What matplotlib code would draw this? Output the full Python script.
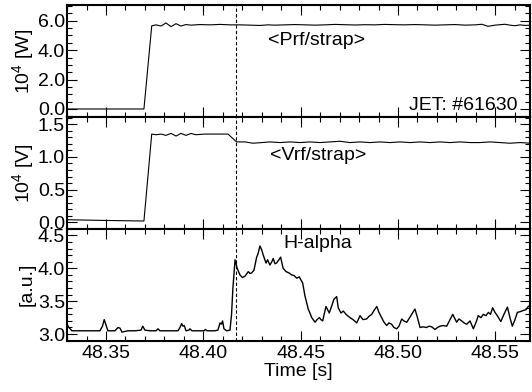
import numpy as np
import matplotlib
matplotlib.use("Agg")
import matplotlib.pyplot as plt
from matplotlib.ticker import MultipleLocator, FormatStrFormatter

plt.rcParams['font.family'] = ['Liberation Sans', 'DejaVu Sans']
plt.rcParams['mathtext.default'] = 'regular'
plt.rcParams['font.size'] = 14

# RF power per strap [10^4 W]
prf_time = [48.3300, 48.3695, 48.3735, 48.3757, 48.3783, 48.3808, 48.3834, 48.3860, 48.3885,
            48.3911, 48.3937, 48.3983, 48.4034, 48.4086, 48.4137, 48.4188, 48.4240, 48.4291,
            48.4332, 48.4368, 48.4420, 48.4471, 48.4522, 48.4574, 48.4625, 48.4676, 48.4728,
            48.4779, 48.4830, 48.4882, 48.4933, 48.4985, 48.5036, 48.5087, 48.5139, 48.5190,
            48.5241, 48.5293, 48.5344, 48.5396, 48.5431, 48.5462, 48.5498, 48.5550, 48.5575,
            48.5601, 48.5627, 48.5652, 48.5683]
prf_val = [0.0, 0.0, 5.65, 5.72, 5.64, 5.85, 5.60, 5.80, 5.64,
           5.74, 5.70, 5.74, 5.72, 5.75, 5.72, 5.72, 5.70, 5.68,
           5.72, 5.70, 5.72, 5.74, 5.72, 5.70, 5.72, 5.75, 5.73,
           5.71, 5.73, 5.72, 5.75, 5.73, 5.72, 5.74, 5.72, 5.70,
           5.72, 5.74, 5.70, 5.72, 5.76, 5.62, 5.70, 5.76, 5.70,
           5.66, 5.72, 5.68, 5.70]

# RF voltage per strap [10^4 V]
vrf_time = [48.3300, 48.3469, 48.3695, 48.3735, 48.3757, 48.3783, 48.3808, 48.3834, 48.3860,
            48.3885, 48.3911, 48.3937, 48.3962, 48.4009, 48.4060, 48.4127, 48.4171, 48.4214,
            48.4255, 48.4301, 48.4342, 48.4394, 48.4445, 48.4497, 48.4548, 48.4599, 48.4651,
            48.4702, 48.4753, 48.4805, 48.4856, 48.4908, 48.4959, 48.5010, 48.5062, 48.5113,
            48.5164, 48.5216, 48.5267, 48.5318, 48.5370, 48.5421, 48.5473, 48.5524, 48.5575,
            48.5627, 48.5683]
vrf_val = [0.04, 0.03, 0.02, 1.35, 1.34, 1.35, 1.33, 1.36, 1.32,
           1.36, 1.33, 1.36, 1.34, 1.35, 1.35, 1.35, 1.23, 1.23,
           1.21, 1.22, 1.23, 1.22, 1.23, 1.22, 1.23, 1.22, 1.23,
           1.24, 1.22, 1.23, 1.22, 1.23, 1.22, 1.23, 1.22, 1.23,
           1.22, 1.23, 1.22, 1.23, 1.22, 1.22, 1.23, 1.22, 1.21,
           1.22, 1.21]

# H-alpha emission [a.u.]
ha_time = [48.3300, 48.3310, 48.3325, 48.3366, 48.3418, 48.3469, 48.3482, 48.3491, 48.3500,
           48.3510, 48.3546, 48.3562, 48.3572, 48.3582, 48.3598, 48.3613, 48.3649, 48.3680,
           48.3689, 48.3700, 48.3726, 48.3757, 48.3767, 48.3777, 48.3829, 48.3870, 48.3880,
           48.3889, 48.3895, 48.3902, 48.3911, 48.3926, 48.3931, 48.3942, 48.3983, 48.4003,
           48.4011, 48.4019, 48.4060, 48.4075, 48.4086, 48.4093, 48.4099, 48.4106, 48.4120,
           48.4137, 48.4145, 48.4152, 48.4163, 48.4174, 48.4188, 48.4201, 48.4214, 48.4231,
           48.4240, 48.4248, 48.4260, 48.4274, 48.4281, 48.4291, 48.4300, 48.4308, 48.4317,
           48.4322, 48.4330, 48.4342, 48.4352, 48.4359, 48.4368, 48.4376, 48.4386, 48.4397,
           48.4410, 48.4425, 48.4440, 48.4454, 48.4466, 48.4480, 48.4493, 48.4502, 48.4510,
           48.4522, 48.4539, 48.4557, 48.4574, 48.4584, 48.4596, 48.4604, 48.4613, 48.4630,
           48.4647, 48.4656, 48.4671, 48.4685, 48.4693, 48.4707, 48.4719, 48.4733, 48.4753,
           48.4769, 48.4788, 48.4805, 48.4820, 48.4839, 48.4851, 48.4865, 48.4877, 48.4891,
           48.4902, 48.4916, 48.4928, 48.4942, 48.4953, 48.4967, 48.4979, 48.4993, 48.5005,
           48.5019, 48.5030, 48.5045, 48.5062, 48.5074, 48.5087, 48.5100, 48.5113, 48.5128,
           48.5147, 48.5159, 48.5173, 48.5190, 48.5203, 48.5216, 48.5231, 48.5250, 48.5264,
           48.5281, 48.5301, 48.5313, 48.5327, 48.5339, 48.5353, 48.5370, 48.5387, 48.5401,
           48.5412, 48.5426, 48.5438, 48.5452, 48.5464, 48.5475, 48.5486, 48.5498, 48.5510,
           48.5528, 48.5544, 48.5562, 48.5575, 48.5587, 48.5601, 48.5613, 48.5627, 48.5644,
           48.5657, 48.5669, 48.5683]
ha_val = [3.15, 3.10, 3.05, 3.05, 3.05, 3.05, 3.12, 3.22, 3.14,
          3.05, 3.05, 3.10, 3.09, 3.03, 3.04, 3.05, 3.05, 3.06,
          3.12, 3.06, 3.05, 3.05, 3.08, 3.05, 3.05, 3.05, 3.10,
          3.16, 3.12, 3.13, 3.05, 3.06, 3.08, 3.05, 3.05, 3.05,
          3.07, 3.05, 3.05, 3.06, 3.17, 3.15, 3.20, 3.08, 3.05,
          3.06, 3.30, 3.70, 4.13, 4.00, 3.90, 3.86, 3.88, 3.95,
          3.92, 3.93, 3.97, 4.17, 4.22, 4.34, 4.28, 4.20, 4.12,
          4.08, 4.13, 4.05, 4.10, 4.15, 4.07, 4.08, 4.12, 4.17,
          4.00, 3.95, 3.93, 3.90, 3.89, 3.85, 3.87, 3.82, 3.78,
          3.58, 3.38, 3.25, 3.18, 3.22, 3.25, 3.22, 3.20, 3.42,
          3.32, 3.40, 3.53, 3.57, 3.40, 3.32, 3.35, 3.30, 3.25,
          3.22, 3.17, 3.28, 3.22, 3.23, 3.27, 3.30, 3.36, 3.42,
          3.33, 3.25, 3.18, 3.13, 3.17, 3.15, 3.10, 3.08, 3.12,
          3.23, 3.20, 3.18, 3.26, 3.32, 3.38, 3.25, 3.10, 3.11,
          3.10, 3.12, 3.11, 3.07, 3.10, 3.12, 3.13, 3.12, 3.20,
          3.30, 3.18, 3.23, 3.20, 3.17, 3.15, 3.20, 3.08, 3.18,
          3.28, 3.25, 3.30, 3.28, 3.33, 3.30, 3.40, 3.33, 3.28,
          3.19, 3.30, 3.41, 3.25, 3.12, 3.22, 3.33, 3.34, 3.36,
          3.37, 3.42, 3.44]

t_marker = 48.417  # dashed line

fig, axes = plt.subplots(3, 1, sharex=True, figsize=(5.32, 3.92), dpi=100)
plt.subplots_adjust(left=0.126, right=0.997, top=0.9865, bottom=0.131, hspace=0)

series = [(prf_time, prf_val), (vrf_time, vrf_val), (ha_time, ha_val)]
ylabels = ["10$^4$ [W]", "10$^4$ [V]", "[a.u.]"]
ylims = [(-0.55, 7.05), (-0.1, 1.61), (2.90, 4.60)]
ymajor = [2.0, 0.5, 0.5]
yminor = [0.5, 0.1, 0.1]
lws = [0.8, 0.8, 1.0]

for ax, (t, v), lab, lim, mj, mn, lw in zip(axes, series, ylabels, ylims, ymajor, yminor, lws):
    ax.plot(t, v, color='black', linewidth=lw)
    ax.axvline(t_marker, color='black', linestyle=(0, (3, 2)), linewidth=0.8)
    ax.set_ylim(lim)
    ax.yaxis.set_major_locator(MultipleLocator(mj))
    ax.yaxis.set_minor_locator(MultipleLocator(mn))
    ax.yaxis.set_major_formatter(FormatStrFormatter('%.1f'))
    ax.set_ylabel(lab)
    ax.yaxis.set_label_coords(-0.068, 0.5)
    ax.tick_params(which='both', direction='in', top=True, right=True, width=0.8)
    ax.tick_params(which='major', length=7)
    ax.tick_params(which='minor', length=3.5)
    ax.tick_params(axis='y', pad=1.5)
    ax.tick_params(axis='x', pad=3)
    for s in ax.spines.values():
        s.set_linewidth(1.5)

axes[2].set_xlim(48.330, 48.568)
axes[2].xaxis.set_major_locator(MultipleLocator(0.05))
axes[2].xaxis.set_minor_locator(MultipleLocator(0.01))
axes[2].xaxis.set_major_formatter(FormatStrFormatter('%.2f'))
axes[2].set_xlabel("Time [s]", labelpad=1)

# labels inside the panels
axes[0].text(48.4332, 4.68, "<Prf/strap>", ha='left', va='center')
axes[0].text(48.5616, 0.25, "JET: #61630", ha='right', va='center')
axes[1].text(48.4342, 1.015, "<Vrf/strap>", ha='left', va='center')
axes[2].text(48.4409, 4.38, "H-alpha", ha='left', va='center')

plt.savefig("out.png", dpi=100)
